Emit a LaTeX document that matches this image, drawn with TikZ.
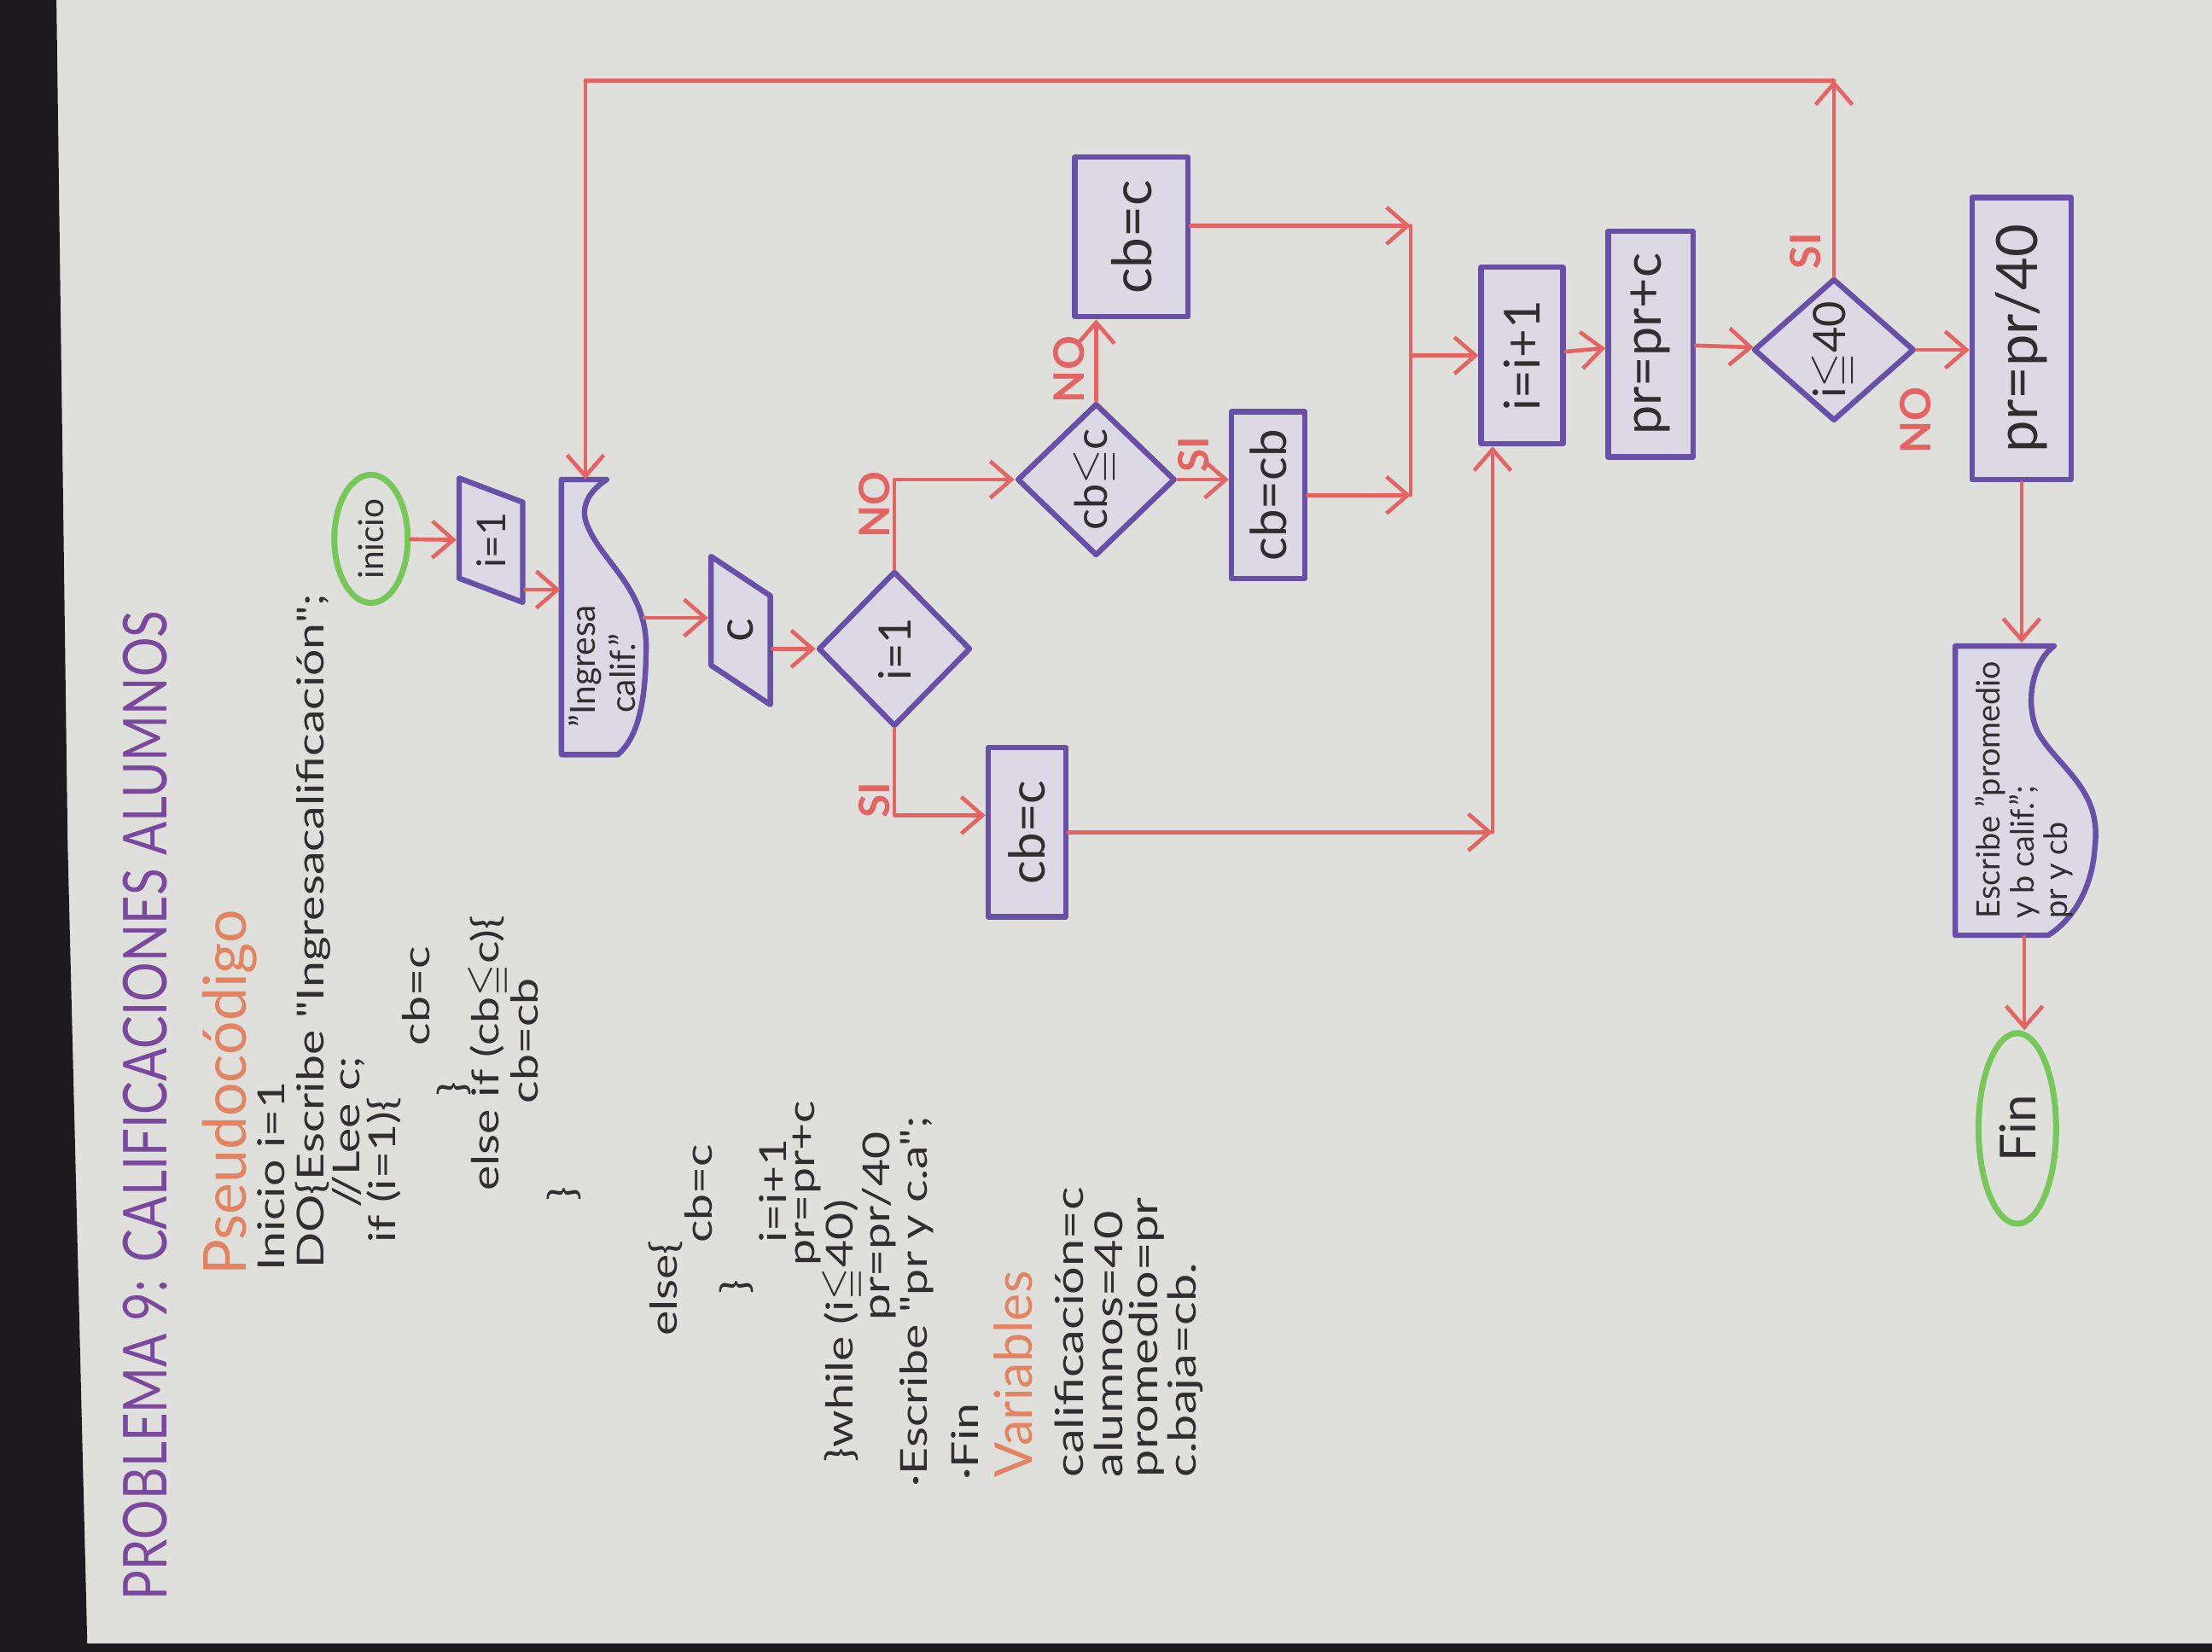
\documentclass[tikz,border=0pt]{standalone}
\usepackage{amssymb}
\usepackage{fontspec}
\setmainfont{Lato}
\newfontfamily\mano{Lato}[FakeStretch=1.27]
\newfontfamily\manotit{Lato}[FakeStretch=0.82]
\usetikzlibrary{shapes.geometric,arrows.meta,calc}

\definecolor{papel}{RGB}{223,223,219}
\definecolor{mesa}{RGB}{28,26,30}
\definecolor{morado}{RGB}{104,80,168}
\definecolor{relleno}{RGB}{220,217,228}
\definecolor{rojo}{RGB}{228,100,100}
\definecolor{verde}{RGB}{118,200,88}
\definecolor{naranja}{RGB}{226,132,98}
\definecolor{titulo}{RGB}{122,72,156}
\definecolor{tinta}{RGB}{48,46,48}

\begin{document}
\begin{tikzpicture}[
    x=0.01cm,
    y=-0.01cm,
    line cap=round,
    line join=round,
    caja/.style={
        rectangle,
        draw=morado,
        fill=relleno,
        line width=1.1pt,
        rotate=90,
        inner sep=1pt,
        text=tinta,
        font=\fontsize{10}{11}\selectfont
    },
    entrada/.style={
        caja,
        trapezium,
        trapezium left angle=62,
        trapezium right angle=118,
        trapezium stretches=true
    },
    decision/.style={
        caja,
        diamond,
        inner sep=0pt
    },
    terminal/.style={
        ellipse,
        draw=verde,
        line width=1.2pt,
        rotate=90,
        inner sep=1pt,
        text=tinta
    },
    documento/.style={
        rotate=90,
        inner ysep=1pt,
        text=tinta,
        align=left
    },
    borde/.style={
        draw=morado,
        fill=relleno,
        line width=1.1pt
    },
    flujo/.style={
        draw=rojo,
        line width=0.8pt,
        -{Straight Barb[length=1.5mm,width=2.6mm]}
    },
    linea/.style={
        draw=rojo,
        line width=0.8pt
    },
    etiqueta/.style={
        text=rojo,
        font=\fontsize{8.5}{10}\selectfont\bfseries,
        rotate=90,
        inner sep=0pt
    },
    codigo/.style={
        text=tinta,
        font=\mano\fontsize{7.5}{9}\selectfont,
        rotate=90,
        anchor=west,
        inner sep=0pt
    },
    dato/.style={
        codigo,
        font=\mano\fontsize{7.8}{9}\selectfont
    },
    encabezado/.style={
        text=naranja,
        font=\fontsize{12}{13}\selectfont,
        rotate=90,
        anchor=west,
        inner sep=0pt
    }
]

% =================================================
% Hoja de papel
% =================================================

\useasboundingbox (0,0) rectangle (1568,1171);
\fill[papel] (0,0) rectangle (1568,1171);
\fill[mesa] (0,0) -- (40,0) -- (48,600) -- (62,1171) -- (0,1171) -- cycle;
\fill[mesa] (0,1165) rectangle (1568,1171);

% =================================================
% Titulo y pseudocodigo
% =================================================

\node[rotate=90, anchor=west, inner sep=0pt, text=titulo,
      font=\manotit\fontsize{12.2}{14}\selectfont] (titulo) at (103,1135)
      {PROBLEMA 9: CALIFICACIONES ALUMNOS};

\node[encabezado] (pseudo) at (163,905) {Pseudocódigo};

\node[codigo] (l1)  at (192,902)  {Inicio i=1};
\node[codigo] (l2)  at (222,900)  {DO\{Escribe "Ingresacalificación";};
\node[codigo] (l3)  at (247,857)  {//Lee c;};
\node[codigo] (l4)  at (272,882)  {if (i=1)\{};
\node[codigo] (l5)  at (295,742)  {cb=c};
\node[codigo] (l6)  at (322,778)  {\}};
\node[codigo] (l7)  at (347,845)  {else if (cb$\leqq$c)\{};
\node[codigo] (l8)  at (372,783)  {cb=cb};
\node[codigo] (l9)  at (400,852)  {\}};
\node[codigo] (l10) at (472,948)  {else\{};
\node[codigo] (l11) at (495,882)  {cb=c};
\node[codigo] (l12) at (522,918)  {\}};
\node[codigo] (l13) at (548,882)  {i=i+1};
\node[codigo] (l14) at (572,898)  {pr=pr+c};
\node[codigo] (l15) at (598,1037) {\}while (i$\leqq$40)};
\node[codigo] (l16) at (623,937)  {pr=pr/40};
\node[codigo] (l17) at (650,1055) {·Escribe "pr y c.a";};
\node[codigo] (l18) at (684,1050) {·Fin};

% =================================================
% Variables
% =================================================

\node[encabezado, font=\fontsize{10.5}{12}\selectfont] (vars) at (718,1048) {Variables};

\node[dato] (v1) at (758,1048) {calificación=c};
\node[dato] (v2) at (786,1048) {alumnos=40};
\node[dato] (v3) at (813,1048) {promedio=pr};
\node[dato] (v4) at (840,1048) {c.baja=cb.};

% =================================================
% Bloques del diagrama
% =================================================

\node[terminal, minimum width=0.75cm, minimum height=0.52cm,
      font=\fontsize{7}{8}\selectfont] (inicio) at (263,382) {inicio};
\node[entrada, minimum width=0.88cm, minimum height=0.45cm,
      font=\fontsize{8}{9}\selectfont] (ione) at (348,383) {i=1};

% Documento "Ingresa calif."
\coordinate (ingresaC) at (427,438);
\draw[borde, shift={(ingresaC)}]
    (-29,97) -- (-29,-98) -- (3,-98)
    .. controls (-12,-88) and (-16,-76) .. (-10,-64)
    .. controls (0,-40) and (31,-20) .. (31,20)
    .. controls (31,60) and (25,85) .. (11,97) -- cycle;
\node[documento, text width=1.55cm, inner xsep=0.2cm, minimum height=0.58cm,
      font=\fontsize{7}{8}\selectfont] (ingresa) at (ingresaC)
      {"Ingresa\\\hspace*{1mm}calif."};

\node[entrada, minimum width=1.05cm, minimum height=0.42cm] (c) at (525,447) {c};
\node[decision, minimum width=1.1cm, minimum height=1.08cm,
      font=\fontsize{9}{10}\selectfont] (si1) at (634,460) {i=1};
\node[decision, minimum width=1.08cm, minimum height=1.12cm,
      font=\fontsize{9}{10}\selectfont] (si2) at (777,340) {cb$\leqq$c};

\node[caja, minimum width=1.2cm, minimum height=0.55cm] (cbA) at (728,590) {cb=c};
\node[caja, minimum width=1.13cm, minimum height=0.8cm,
      font=\fontsize{11}{12}\selectfont] (cbB) at (802,168) {cb=c};
\node[caja, minimum width=1.18cm, minimum height=0.52cm] (cbC) at (899,351) {cb=cb};

\node[caja, minimum width=1.25cm, minimum height=0.58cm] (inc) at (1079,252) {i=i+1};
\node[caja, minimum width=1.6cm, minimum height=0.6cm,
      font=\fontsize{10.5}{12}\selectfont] (suma) at (1170,244) {pr=pr+c};
\node[decision, minimum width=1.0cm, minimum height=1.14cm,
      font=\fontsize{9}{10}\selectfont] (si3) at (1300,248) {i$\leqq$40};
\node[caja, minimum width=2.0cm, minimum height=0.7cm,
      font=\fontsize{11.5}{13}\selectfont] (prom) at (1433,240) {pr=pr/40};

% Documento de salida
\coordinate (escribeC) at (1435,560);
\draw[borde, shift={(escribeC)}]
    (-49,103) -- (-49,-102) -- (21,-102)
    .. controls (5,-90) and (0,-60) .. (10,-40)
    .. controls (25,-15) and (55,0) .. (50,40)
    .. controls (48,75) and (30,95) .. (17,103) -- cycle;
\node[documento, minimum width=2.07cm, minimum height=0.99cm,
      font=\fontsize{6.5}{6.8}\selectfont] (escribe) at (escribeC)
      {Escribe "promedio\\y b calif.";\\pr y cb};

\node[terminal, minimum width=1.35cm, minimum height=0.55cm,
      font=\fontsize{10}{11}\selectfont] (fin) at (1430,800) {Fin};

% =================================================
% Puntos de union
% =================================================

\coordinate (uneArriba) at (1000,160);
\coordinate (uneMedio)  at (1000,252);
\coordinate (uneAbajo)  at (1000,351);
\coordinate (esquina)   at (1058,590);
\coordinate (vueltaIzq) at (415,57);

% =================================================
% Flechas
% =================================================

\draw[flujo] (inicio) -- (ione);
\draw[flujo] ([yshift=-3.5mm]ione.south) -- ([yshift=-3.5mm]ione.south -| ingresa.north);
\draw[flujo] (ingresa.south) -- (ingresa.south -| c.north);
\draw[flujo] (c.south |- si1.north) -- (si1.north);

% Primera decision
\draw[flujo] (si1.east) |- (si2.north);
\draw[flujo] (si1.west) |- ([yshift=1.2mm]cbA.north);

% Segunda decision
\draw[flujo] (si2.east) -- (si2.east |- cbB.west);
\draw[flujo] (si2.south) -- (si2.south -| cbC.north);

% Union hacia i=i+1
\draw[flujo] (uneArriba -| cbB.south) -- (uneArriba);
\draw[linea] (uneArriba) -- (uneAbajo);
\draw[flujo] (cbC.south) -- (uneAbajo);
\draw[flujo] (uneMedio) -- (inc);
\draw[flujo] (cbA) -- (esquina);
\draw[flujo] (esquina) -- (esquina |- inc.west);

\draw[flujo] (inc) -- (suma);
\draw[flujo] (suma) -- (si3);

% Regreso del ciclo
\draw[flujo] (si3.east) -- (si3.east |- vueltaIzq);
\draw[linea] (si3.east |- vueltaIzq) -- (vueltaIzq);
\draw[flujo] (vueltaIzq) -- (vueltaIzq |- ingresa.east);

% Salida
\draw[flujo] (si3.south) -- (si3.south -| prom.north);
\draw[flujo] (prom.west) -- (prom.west |- escribe.east);
\draw[flujo] (escribe.west) -- (escribe.west |- fin.east);

% =================================================
% Etiquetas SI / NO
% =================================================

\node[etiqueta] (lblNo1) at (620,358)  {NO};
\node[etiqueta] (lblSi1) at (620,567)  {SI};
\node[etiqueta] (lblNo2) at (758,262)  {NO};
\node[etiqueta] (lblSi2) at (846,322)  {SI};
\node[etiqueta] (lblSi3) at (1280,178) {SI};
\node[etiqueta] (lblNo3) at (1358,298) {NO};

\end{tikzpicture}
\end{document}
